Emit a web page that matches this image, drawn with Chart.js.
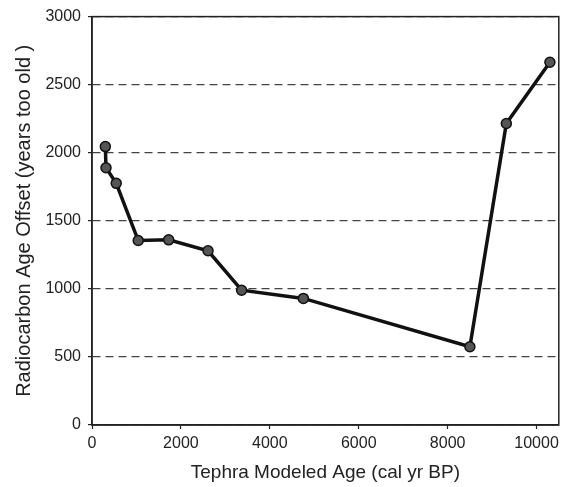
<!DOCTYPE html>
<html>
<head>
<meta charset="utf-8">
<script src="https://cdn.jsdelivr.net/npm/chart.js@4"></script>
<style>
  html, body { margin: 0; padding: 0; background: #fff; }
  #wrap { width: 564px; height: 487px; }
</style>
</head>
<body>
<div id="wrap"><canvas id="offsetChart"></canvas></div>
<script>
// Tephra modeled age (cal yr BP) vs radiocarbon age offset (years too old)
const tephraAge = [300, 315, 545, 1040, 1725, 2610, 3365, 4755, 8500, 9320, 10300];
const ageOffset = [2045, 1890, 1775, 1355, 1360, 1280, 990, 930, 575, 2215, 2665];
const xTicks = [0, 2000, 4000, 6000, 8000, 10000];
const yTicks = [0, 500, 1000, 1500, 2000, 2500, 3000];

const fontFamily = '"Liberation Sans", Arial, sans-serif';

// solid frame around the plot area
const framePlugin = {
    id: 'frame',
    afterDraw(chart) {
        const a = chart.chartArea;
        const ctx = chart.ctx;
        ctx.save();
        ctx.strokeStyle = '#222';
        ctx.lineWidth = 1.5;
        ctx.strokeRect(a.left, a.top, a.right - a.left, a.bottom - a.top);
        ctx.restore();
    }
};

new Chart(document.getElementById('offsetChart').getContext('2d'), {
    type: 'scatter',
    data: {
        datasets: [{
            data: tephraAge.map((x, i) => ({ x: x, y: ageOffset[i] })),
            showLine: true,
            borderColor: '#111',
            borderWidth: 3.5,
            pointRadius: 5,
            pointBorderWidth: 1.5,
            pointBorderColor: '#111',
            pointBackgroundColor: '#555'
        }]
    },
    options: {
        responsive: true,
        maintainAspectRatio: false,
        animation: false,
        layout: { autoPadding: false, padding: { top: 16, right: 4, left: 0, bottom: 0 } },
        plugins: { legend: { display: false }, tooltip: { enabled: false } },
        scales: {
            x: {
                type: 'linear',
                min: 0,
                max: 10500,
                afterBuildTicks: s => { s.ticks = xTicks.map(v => ({ value: v })); },
                afterFit: s => { s.height = 62; },
                grid: { drawOnChartArea: false, drawTicks: true, tickLength: 4, color: '#222', tickWidth: 1.2 },
                border: { color: '#222', width: 1.5 },
                ticks: {
                    color: '#222', padding: 5, maxRotation: 0,
                    font: { family: fontFamily, size: 16 },
                    callback: v => String(v)
                },
                title: {
                    display: true,
                    text: 'Tephra Modeled Age (cal yr BP)',
                    color: '#222',
                    padding: { top: 0, bottom: 3 },
                    font: { family: fontFamily, size: 19 }
                }
            },
            y: {
                min: 0,
                max: 3000,
                afterBuildTicks: s => { s.ticks = yTicks.map(v => ({ value: v })); },
                afterFit: s => { s.width = 92; },
                grid: {
                    color: '#444',
                    lineWidth: 1.2,
                    drawTicks: true,
                    tickLength: 4,
                    tickColor: '#222',
                    tickWidth: 1.2,
                    tickBorderDash: []
                },
                border: { color: '#222', width: 1.5, dash: [8, 5] },
                ticks: {
                    color: '#222', padding: 7,
                    font: { family: fontFamily, size: 16 },
                    callback: v => String(v)
                },
                title: {
                    display: true,
                    text: 'Radiocarbon Age Offset (years too old )',
                    color: '#222',
                    padding: { top: 12, bottom: 0 },
                    font: { family: fontFamily, size: 20 }
                }
            }
        }
    },
    plugins: [framePlugin]
});
</script>
</body>
</html>
